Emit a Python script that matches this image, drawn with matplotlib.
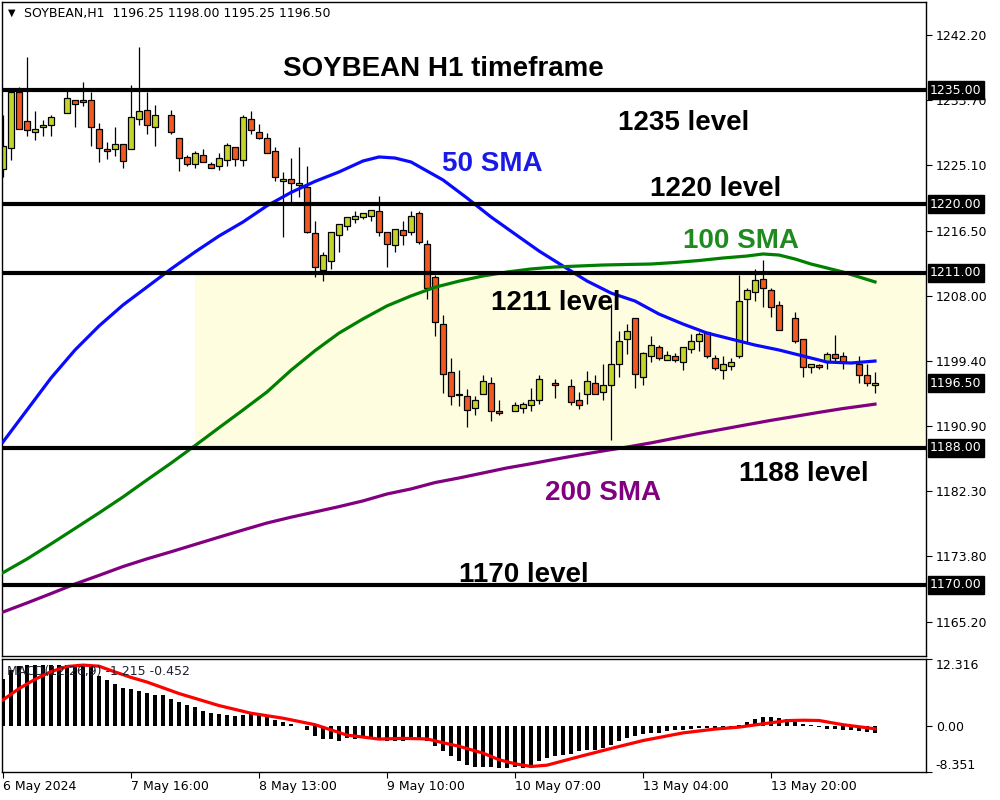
import numpy as np
import matplotlib
matplotlib.use('Agg')
import matplotlib.pyplot as plt

nan = np.nan

# ---------------- data ----------------
opens = [1224.6, 1227.4, 1234.8, 1230.9, 1229.5, 1230.1, 1230.4, nan, 1232.0, 1233.7,
         1233.7, 1233.7, 1229.9, 1227.25, 1227.25, 1227.9, 1227.25, 1231.2, 1232.4, 1230.15,
         nan, 1231.7, 1228.7, 1226.2, 1225.3, 1226.45, 1225.3, 1225.0, 1225.8, 1227.5,
         1225.75, 1231.2, 1229.5, 1228.7, 1227.0, 1223.0, 1223.3, 1222.5, 1222.2, 1216.2,
         1211.4, 1212.5, 1216.0, 1217.1, 1218.0, 1218.3, 1218.5, 1219.1, 1216.3, 1214.6,
         1216.6, 1216.3, 1218.8, 1214.8, 1210.45, 1204.3, 1197.96, 1194.9, 1194.8, 1193.2,
         1195.06, 1196.5, 1192.8, nan, 1192.8, 1193.3, 1193.6, 1194.3, nan, 1196.5,
         nan, 1196.1, 1194.3, 1195.06, 1196.5, 1195.3, 1196.25, 1199.0, 1202.3, 1205.1,
         1197.3, 1200.07, 1201.26, 1199.55, 1200.07, 1199.3, 1201.0, 1202.05, 1203.24, 1199.8,
         1198.2, 1198.75, 1200.07, 1207.6, 1208.5, 1210.2, 1208.8, 1206.8, nan, 1205.1,
         1202.3, 1198.6, 1198.9, 1199.3, 1200.3, 1200.07, nan, 1199.0, 1197.6, 1196.25]
highs = [1231.7, 1235.3, 1235.4, 1239.3, 1232.3, 1231.0, 1231.7, nan, 1235.0, 1233.7,
         1236.0, 1234.8, 1230.7, 1228.2, 1230.15, 1227.9, 1235.7, 1240.7, 1234.8, 1233.0,
         nan, 1232.4, 1228.7, 1226.45, 1227.0, 1227.25, 1225.5, 1226.7, 1228.0, 1227.5,
         1231.7, 1232.3, 1230.6, 1229.3, 1227.5, 1224.3, 1226.1, 1227.5, 1225.05, 1217.75,
         1213.7, 1216.3, 1217.35, 1218.3, 1219.1, 1218.8, 1219.3, 1221.05, 1216.3, 1216.8,
         1217.75, 1219.1, 1219.1, 1215.3, 1210.7, 1205.5, 1199.8, 1198.2, 1195.7, 1194.8,
         1197.6, 1197.3, 1194.3, nan, 1194.0, 1194.0, 1195.85, 1197.6, nan, 1197.0,
         nan, 1197.0, 1195.3, 1198.1, 1197.6, 1199.0, 1206.9, 1203.4, 1204.3, 1205.1,
         1200.6, 1202.7, 1201.5, 1200.7, 1200.5, 1201.3, 1203.0, 1203.24, 1203.24, 1200.2,
         1200.07, 1199.8, 1210.76, 1209.05, 1211.55, 1212.74, 1209.05, 1207.3, nan, 1205.9,
         1202.3, 1199.0, 1199.0, 1200.6, 1202.8, 1200.6, nan, 1200.07, 1199.0, 1198.0]
lows = [1223.6, 1225.8, 1229.9, 1228.9, 1228.4, 1228.9, 1228.9, nan, 1232.0, 1230.1,
        1232.9, 1227.6, 1225.6, 1225.9, 1226.4, 1224.7, 1227.25, 1230.4, 1229.2, 1227.6,
        nan, 1229.2, 1224.4, 1224.96, 1224.7, 1225.5, 1224.74, 1224.5, 1225.0, 1224.96,
        1224.96, 1229.2, 1228.6, 1226.7, 1223.0, 1215.7, 1220.2, 1221.0, 1216.2, 1210.45,
        1209.9, 1211.5, 1213.75, 1216.6, 1217.5, 1218.0, 1217.75, 1215.8, 1211.8, 1213.75,
        1214.6, 1216.0, 1214.8, 1207.5, 1202.75, 1195.15, 1193.7, 1193.5, 1190.7, 1192.3,
        1195.06, 1191.5, 1192.3, nan, 1192.8, 1192.55, 1192.8, 1193.75, nan, 1194.5,
        nan, 1193.6, 1193.1, 1193.75, 1195.06, 1194.3, 1189.0, 1197.3, 1200.3, 1195.9,
        1196.25, 1199.3, 1199.55, 1199.55, 1199.3, 1198.2, 1200.5, 1200.7, 1199.8, 1198.2,
        1197.04, 1198.2, 1199.8, 1201.9, 1207.3, 1206.5, 1205.2, 1203.5, nan, 1201.8,
        1197.3, 1197.8, 1198.4, 1198.4, 1199.3, 1198.4, nan, 1196.5, 1196.1, 1195.25]
closes = [1227.6, 1234.8, 1229.9, 1229.8, 1229.9, 1230.4, 1231.5, nan, 1234.0, 1233.1,
          1233.45, 1230.1, 1227.4, 1227.0, 1227.9, 1225.7, 1231.5, 1232.3, 1230.4, 1231.7,
          nan, 1229.5, 1226.1, 1225.3, 1226.7, 1225.5, 1224.74, 1226.06, 1227.8, 1226.0,
          1231.5, 1229.8, 1228.7, 1226.7, 1223.6, 1223.3, 1222.8, 1222.8, 1216.4, 1211.7,
          1213.3, 1216.3, 1217.35, 1218.3, 1218.5, 1218.8, 1219.3, 1216.3, 1214.8, 1216.8,
          1216.0, 1218.5, 1215.0, 1209.0, 1204.5, 1197.7, 1194.8, 1194.9, 1192.95, 1194.3,
          1196.8, 1192.8, 1192.55, nan, 1193.6, 1193.75, 1194.3, 1197.0, nan, 1196.25,
          nan, 1194.0, 1193.6, 1196.8, 1195.06, 1196.25, 1199.0, 1202.05, 1203.4, 1197.7,
          1200.5, 1201.5, 1199.8, 1200.2, 1199.55, 1201.26, 1202.05, 1203.0, 1200.07, 1198.5,
          1199.0, 1199.3, 1207.3, 1208.8, 1210.1, 1209.05, 1206.5, 1203.5, nan, 1202.05,
          1198.6, 1199.0, 1198.6, 1200.3, 1199.8, 1199.3, nan, 1197.6, 1196.5, 1196.5]

sma50_idx = [0, 3, 6, 9, 12, 15, 18, 21, 24, 27, 30, 33, 36, 39, 42, 45, 47, 49, 51, 53,
             55, 58, 61, 64, 67, 70, 73, 76, 79, 82, 85, 88, 91, 94, 97, 100, 103, 106, 109]
sma50 = [1188.78, 1192.98, 1197.18, 1200.86, 1204.01, 1206.77, 1209.13, 1211.50, 1213.73,
         1215.83, 1217.67, 1219.8, 1221.55, 1223.0, 1224.24, 1225.68, 1226.21, 1226.07,
         1225.55, 1224.37, 1223.19, 1220.82, 1218.33, 1216.09, 1213.86, 1211.89, 1209.92,
         1208.34, 1207.29, 1205.58, 1204.27, 1203.09, 1202.30, 1201.51, 1200.86, 1200.07,
         1199.28, 1199.15, 1199.41]
sma100_idx = [0, 3, 6, 9, 12, 15, 18, 21, 24, 27, 30, 33, 36, 39, 42, 45, 48, 51, 54, 57,
              60, 63, 66, 69, 72, 75, 78, 81, 84, 87, 90, 93, 95, 97, 99, 101, 103, 105,
              107, 109]
sma100 = [1171.62, 1173.41, 1175.39, 1177.42, 1179.46, 1181.56, 1183.8, 1186.0, 1188.3,
          1190.65, 1192.98, 1195.35, 1198.2, 1200.77, 1203.08, 1204.94, 1206.65, 1207.96,
          1209.1, 1209.9, 1210.58, 1211.1, 1211.5, 1211.76, 1211.89, 1212.02, 1212.09,
          1212.15, 1212.35, 1212.61, 1212.94, 1213.2, 1213.47, 1213.33, 1212.81, 1212.15,
          1211.63, 1211.1, 1210.45, 1209.8]
sma200_idx = [0, 3, 6, 9, 12, 15, 18, 21, 24, 27, 30, 33, 36, 39, 42, 45, 48, 51, 54, 57,
              60, 63, 66, 69, 72, 75, 78, 81, 84, 87, 90, 93, 96, 99, 102, 105, 108, 109]
sma200 = [1166.45, 1167.64, 1168.87, 1170.13, 1171.26, 1172.42, 1173.43, 1174.36, 1175.32,
          1176.28, 1177.22, 1178.14, 1178.9, 1179.59, 1180.29, 1181.04, 1181.95, 1182.61,
          1183.45, 1184.05, 1184.71, 1185.37, 1185.92, 1186.51, 1187.07, 1187.6, 1188.11,
          1188.66, 1189.28, 1189.9, 1190.47, 1191.05, 1191.62, 1192.14, 1192.67, 1193.17,
          1193.6, 1193.75]

macd_hist = [8.63, 10.33, 11.06, 11.24, 11.24, 11.24, 11.24, 11.24, 11.24, 11.24,
             11.24, 11.06, 9.23, 8.50, 7.77, 6.98, 6.80, 6.55, 6.18, 5.82,
             5.82, 5.09, 4.54, 3.93, 3.50, 2.89, 2.41, 2.28, 2.10, 1.92,
             2.10, 2.28, 2.10, 1.80, 1.19, 0.82, 0.46, 0.09, -0.76, -1.74,
             -2.35, -2.35, -2.59, -2.16, -2.35, -2.16, -2.16, -2.35, -2.59, -2.59,
             -2.59, -2.35, -2.35, -2.77, -3.56, -4.60, -5.51, -6.25, -7.04, -7.35,
             -7.47, -7.47, -7.65, -7.65, -7.47, -7.65, -7.47, -6.43, -5.82, -5.51,
             -5.21, -5.03, -4.60, -4.30, -4.30, -3.99, -3.38, -2.59, -2.16, -1.74,
             -1.37, -1.13, -1.13, -0.88, -0.64, -0.64, -0.40, -0.34, -0.34, -0.34,
             -0.34, -0.15, 0.21, 0.76, 1.31, 1.68, 1.68, 1.49, 1.31, 0.76,
             0.46, 0.21, -0.15, -0.40, -0.52, -0.64, -0.76, -0.88, -1.01, -1.215]
sig_idx = [0, 2, 4, 6, 8, 10, 12, 14, 16, 18, 22, 27, 31, 35, 39, 43, 47, 50, 53, 55, 57,
           60, 62, 64, 66, 68, 72, 76, 80, 85, 89, 92, 95, 98, 100, 102, 105, 109]
sig_val = [4.84, 6.9, 8.6, 10.0, 10.94, 11.2, 11.0, 9.95, 8.95, 8.1, 6.0, 3.8, 2.4, 1.49,
           0.3, -1.6, -2.33, -2.2, -2.3, -3.0, -3.65, -4.9, -6.1, -6.85, -7.35, -7.1,
           -5.55, -4.05, -2.6, -1.2, -0.5, -0.15, 0.46, 1.05, 1.12, 1.07, 0.3, -0.452]

levels = [1235.0, 1220.0, 1211.0, 1188.0, 1170.0]
zone = (1188.0, 1211.0)
zone_start = 24
last_price = 1196.50

price_ticks = [1242.20, 1233.70, 1225.10, 1216.50, 1208.00, 1199.40, 1190.90, 1182.30,
               1173.80, 1165.20]
macd_ticks = [12.316, 0.0, -8.351]
macd_tick_labels = ['12.316', '0.00', '-8.351']
date_idx = [0, 16, 32, 48, 64, 80, 96]
date_labels = ['6 May 2024', '7 May 16:00', '8 May 13:00', '9 May 10:00', '10 May 07:00',
               '13 May 04:00', '13 May 20:00']

# ---------------- figure ----------------
BULL = '#c3d52b'
BEAR = '#f05a22'
fig = plt.figure(figsize=(10, 8), dpi=100)
ax = fig.add_axes([0.002, 0.1794, 0.924, 0.8181])
axm = fig.add_axes([0.002, 0.035, 0.924, 0.14125])
XL = (-0.125, 115.375)
for a in (ax, axm):
    a.set_xlim(*XL)
    for s in a.spines.values():
        s.set_color('black')
        s.set_linewidth(1.0)
ax.set_ylim(1160.61, 1246.56)
axm.set_ylim(-8.351, 12.316)

# zone
ax.axhspan(zone[0], zone[1], xmin=(zone_start - XL[0]) / (XL[1] - XL[0]), xmax=1,
           facecolor='#fefde0', edgecolor='none', zorder=0)

# candles
o = np.array(opens); h = np.array(highs); l = np.array(lows); c = np.array(closes)
idx = np.arange(len(o))
valid = ~np.isnan(o)
up = valid & (c >= o)
dn = valid & (c < o)
ax.vlines(idx[valid], l[valid], h[valid], color='black', lw=0.9, zorder=2)
hgt = np.maximum(np.abs(c - o), 0.12)
ax.bar(idx[up], hgt[up], bottom=o[up], width=0.7, color=BULL, edgecolor='black',
       linewidth=0.9, zorder=2.5)
ax.bar(idx[dn], hgt[dn], bottom=c[dn], width=0.7, color=BEAR, edgecolor='black',
       linewidth=0.9, zorder=2.5)

# moving averages
ax.plot(sma50_idx, sma50, color='#0a0aff', lw=2.3, zorder=3, solid_joinstyle='round')
ax.plot(sma100_idx, sma100, color='#008000', lw=2.3, zorder=3, solid_joinstyle='round')
ax.plot(sma200_idx, sma200, color='#800080', lw=2.3, zorder=3, solid_joinstyle='round')

# level lines
for lv in levels:
    ax.axhline(lv, color='black', lw=3.0, zorder=4)

# price axis
ax.yaxis.tick_right()
ax.set_yticks(price_ticks)
ax.set_yticklabels([f'{t:.2f}' for t in price_ticks])
ax.tick_params(axis='y', direction='out', length=4, width=0.8, pad=3, labelsize=9,
               colors='black')
ax.tick_params(axis='x', bottom=False, labelbottom=False)

tag_box = dict(boxstyle='square,pad=0.18', fc='black', ec='black')
for lv in levels + [last_price]:
    ax.annotate(f'{lv:.2f}', xy=(1.0, lv), xycoords=('axes fraction', 'data'),
                xytext=(3, 0), textcoords='offset points', ha='left', va='center',
                fontsize=9, color='white', bbox=tag_box, zorder=10,
                annotation_clip=False)

# annotations
BF = dict(family='Liberation Sans', weight='bold', fontsize=20, ha='center',
          va='baseline', zorder=6)
ax.text(55.0, 1236.84, 'SOYBEAN H1 timeframe', color='black', **BF)
ax.text(85.06, 1229.75, '1235 level', color='black', **BF)
ax.text(61.1, 1224.37, '50 SMA', color='#1a1ae6', **BF)
ax.text(89.1, 1221.08, '1220 level', color='black', **BF)
ax.text(92.2, 1214.26, '100 SMA', color='#1f8a1f', **BF)
ax.text(69.06, 1206.12, '1211 level', color='black', **BF)
ax.text(100.06, 1183.67, '1188 level', color='black', **BF)
ax.text(75.0, 1181.17, '200 SMA', color='#800080', **BF)
ax.text(65.06, 1170.40, '1170 level', color='black', **BF)

# MACD panel
axm.bar(idx, macd_hist, width=0.62, color='black', zorder=2)
axm.plot(sig_idx, sig_val, color='#ff0000', lw=2.3, zorder=3, solid_joinstyle='round')
axm.yaxis.tick_right()
axm.set_yticks(macd_ticks)
axm.set_yticklabels(macd_tick_labels)
axm.tick_params(axis='y', direction='out', length=4, width=0.8, pad=3, labelsize=9)
labs = axm.get_yticklabels()
labs[0].set_verticalalignment('top')
labs[2].set_verticalalignment('bottom')
axm.set_xticks(date_idx)
axm.set_xticklabels(date_labels, ha='left')
axm.tick_params(axis='x', direction='out', length=4, width=0.8, pad=2, labelsize=9)
axm.text(0.0054, 0.885, 'MACD(12,26,9) -1.215 -0.452', transform=axm.transAxes,
         fontsize=9, color='#202030', va='center', ha='left', zorder=5)

# header
fig.text(0.008, 1 - 13 / 800, '\u25bc', fontsize=7, va='center', ha='left')
fig.text(0.024, 1 - 13 / 800, 'SOYBEAN,H1  1196.25 1198.00 1195.25 1196.50', fontsize=9,
         va='center', ha='left', color='black')

fig.savefig('out.png', dpi=100, facecolor='white')
